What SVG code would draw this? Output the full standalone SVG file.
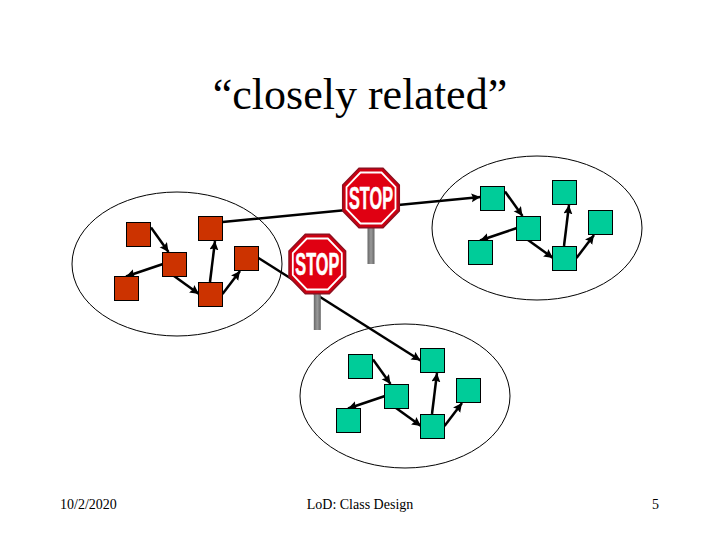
<svg xmlns="http://www.w3.org/2000/svg" xmlns:xlink="http://www.w3.org/1999/xlink" width="720" height="540" viewBox="0 0 720 540">
<style>
text{font-family:"Liberation Serif","Times New Roman",serif;fill:#000}
.title{font-size:44px}
.foot{font-size:14px}
.cloud{fill:none;stroke:#000;stroke-width:1}
.red{fill:#cc3300;stroke:#000;stroke-width:1}
.green{fill:#00cc99;stroke:#000;stroke-width:1}
.link{fill:none;stroke:#000;stroke-width:2.500;marker-end:url(#arrow)}
.stoptext{font-family:"Liberation Sans",Arial,sans-serif;font-weight:700;font-size:31px;fill:#fff;stroke:#fff;stroke-width:.6;text-anchor:middle}
</style>
<defs>
<marker id="arrow" markerUnits="userSpaceOnUse" markerWidth="12" markerHeight="12" refX="9" refY="4.500" orient="auto"><path d="M0 0L9 4.500L0 9L1.500 4.500Z" fill="#000"/></marker>
<linearGradient id="pole" x1="0" x2="1" y1="0" y2="0"><stop offset="0" stop-color="#666"/><stop offset=".5" stop-color="#999"/><stop offset="1" stop-color="#666"/></linearGradient>
<g id="stop">
<rect x="-3.500" y="28" width="7" height="38" fill="url(#pole)"/>
<polygon points="-12,-29.700 12,-29.700 28.300,-13 28.300,13 12,29.700 -12,29.700 -28.300,13 -28.300,-13" fill="#cc0011" stroke="#8e1020" stroke-width="1.500"/>
<polygon points="-10.500,-25.500 10.500,-25.500 24.500,-11 24.500,11 10.500,25.500 -10.500,25.500 -24.500,11 -24.500,-11" fill="#e00012" stroke="#fff" stroke-width="1.800"/>
<text class="stoptext" x="0" y="11" textLength="44" lengthAdjust="spacingAndGlyphs">STOP</text>
</g>
<g id="links">
<path class="link" d="M151 227.500L168.500 252"/>
<path class="link" d="M163 264L126 276.500"/>
<path class="link" d="M174 276L199 294"/>
<path class="link" d="M210 282L215 241"/>
<path class="link" d="M222.500 294L240 271"/>
</g>
</defs>
<text class="title" x="360" y="109" text-anchor="middle">“closely related”</text>
<g id="connectors">
<path class="link" d="M222.500 222L480.500 197"/>
<path class="link" d="M258.500 258L420.500 360.500"/>
<use xlink:href="#links"/>
<use xlink:href="#links" x="354" y="-36"/>
<use xlink:href="#links" x="222" y="132"/>
</g>
<g id="cluster-left">
<ellipse class="cloud" cx="177" cy="264" rx="105" ry="72"/>
<rect class="red" x="126.500" y="222.500" width="24" height="24"/>
<rect class="red" x="198.500" y="216.500" width="24" height="24"/>
<rect class="red" x="162.500" y="252.500" width="24" height="24"/>
<rect class="red" x="114.500" y="276.500" width="24" height="24"/>
<rect class="red" x="198.500" y="282.500" width="24" height="24"/>
<rect class="red" x="234.500" y="246.500" width="24" height="24"/>
</g>
<g id="cluster-right">
<ellipse class="cloud" cx="537" cy="228" rx="105" ry="72"/>
<rect class="green" x="480.500" y="186.500" width="24" height="24"/>
<rect class="green" x="552.500" y="180.500" width="24" height="24"/>
<rect class="green" x="516.500" y="216.500" width="24" height="24"/>
<rect class="green" x="468.500" y="240.500" width="24" height="24"/>
<rect class="green" x="552.500" y="246.500" width="24" height="24"/>
<rect class="green" x="588.500" y="210.500" width="24" height="24"/>
</g>
<g id="cluster-bottom">
<ellipse class="cloud" cx="405" cy="396" rx="105" ry="72"/>
<rect class="green" x="348.500" y="354.500" width="24" height="24"/>
<rect class="green" x="420.500" y="348.500" width="24" height="24"/>
<rect class="green" x="384.500" y="384.500" width="24" height="24"/>
<rect class="green" x="336.500" y="408.500" width="24" height="24"/>
<rect class="green" x="420.500" y="414.500" width="24" height="24"/>
<rect class="green" x="456.500" y="378.500" width="24" height="24"/>
</g>
<g id="stop-1"><use xlink:href="#stop" x="371" y="198"/></g>
<g id="stop-2"><use xlink:href="#stop" x="317.300" y="264"/></g>
<text class="foot" x="60" y="509">10/2/2020</text>
<text class="foot" x="360" y="509" text-anchor="middle">LoD: Class Design</text>
<text class="foot" x="652" y="509">5</text>
</svg>
